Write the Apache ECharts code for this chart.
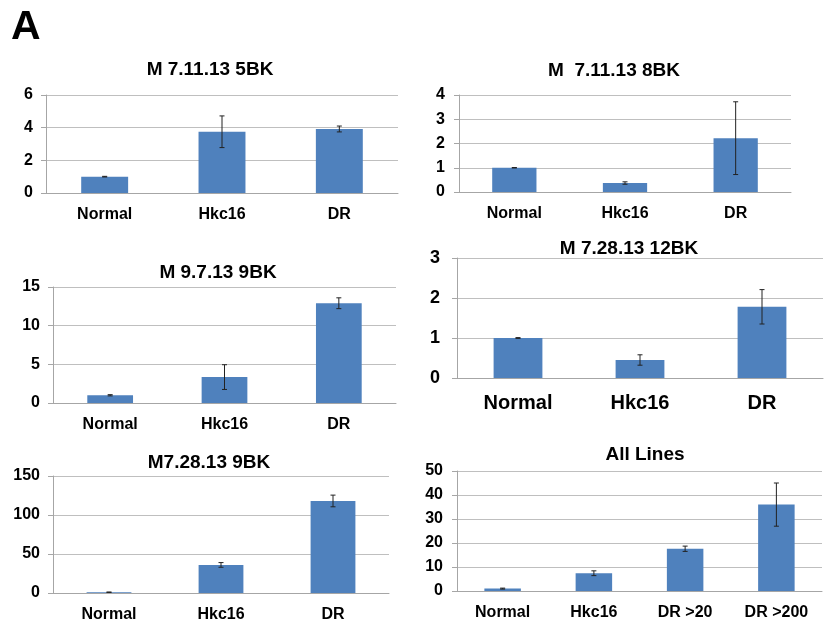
<!DOCTYPE html>
<html lang="en">
<head>
  <meta charset="UTF-8">
  <title>Panel A</title>
  <script src="https://cdnjs.cloudflare.com/ajax/libs/echarts/6.0.0/echarts.min.js"></script>
  <style>html,body{margin:0;padding:0;background:#fff;}</style>
</head>
<body>
  <div id="main" style="width: 825px;height:624px;"></div>
<script type="text/javascript">
  // categories
  var cats3 = ['Normal', 'Hkc16', 'DR'];
  var cats4 = ['Normal', 'Hkc16', 'DR >20', 'DR >200'];

  // mean values and error (+/-)
  var val5BK = [1.0, 3.75, 3.92];
  var err5BK = [0.02, 0.97, 0.18];
  var val8BK = [1.0, 0.37, 2.22];
  var err8BK = [0.01, 0.05, 1.5];
  var val9713 = [1.0, 3.35, 12.9];
  var err9713 = [0.08, 1.6, 0.7];
  var val12BK = [1.0, 0.45, 1.78];
  var err12BK = [0.01, 0.13, 0.43];
  var val72813 = [1.0, 36, 118];
  var err72813 = [0.3, 3, 7.5];
  var valAll = [1.0, 7.4, 17.6, 36];
  var errAll = [0.2, 1.0, 1.1, 9];

  var titles = ['M 7.11.13 5BK', 'M  7.11.13 8BK', 'M 9.7.13 9BK', 'M 7.28.13 12BK', 'M7.28.13 9BK', 'All Lines'];
  var yMax = [6, 4, 15, 3, 150, 50];
  var yStep = [2, 1, 5, 1, 50, 10];

  // layout per panel (grid box, title centre, font sizes)
  var panels = [
    {cats: cats3, vals: val5BK, errs: err5BK, grid: {left: 46, top: 95, width: 352, height: 98}, tx: 210, ty: 60, xfs: 16, yfs: 16, xm: 14, ym: 13},
    {cats: cats3, vals: val8BK, errs: err8BK, grid: {left: 459, top: 95, width: 332, height: 97}, tx: 614, ty: 61, xfs: 16, yfs: 16, xm: 14, ym: 14},
    {cats: cats3, vals: val9713, errs: err9713, grid: {left: 53, top: 287, width: 343, height: 116}, tx: 218, ty: 263, xfs: 16, yfs: 16, xm: 14, ym: 13},
    {cats: cats3, vals: val12BK, errs: err12BK, grid: {left: 457, top: 258, width: 366, height: 120}, tx: 629, ty: 239, xfs: 20, yfs: 18, xm: 15, ym: 17},
    {cats: cats3, vals: val72813, errs: err72813, grid: {left: 53, top: 476, width: 336, height: 117}, tx: 209, ty: 453, xfs: 16, yfs: 16, xm: 14, ym: 13},
    {cats: cats4, vals: valAll, errs: errAll, grid: {left: 457, top: 471, width: 365, height: 120}, tx: 645, ty: 445, xfs: 16, yfs: 16, xm: 14, ym: 14}
  ];

  var font = 'Liberation Sans, Arial, sans-serif';

  function renderErr(params, api) {
    var x = api.value(0);
    var lo = api.coord([x, api.value(1)]);
    var hi = api.coord([x, api.value(2)]);
    var cap = 2.5;
    var st = {stroke: '#222', lineWidth: 1};
    return {
      type: 'group',
      children: [
        {type: 'line', shape: {x1: lo[0], y1: lo[1], x2: hi[0], y2: hi[1]}, style: st},
        {type: 'line', shape: {x1: lo[0] - cap, y1: lo[1], x2: lo[0] + cap, y2: lo[1]}, style: st},
        {type: 'line', shape: {x1: hi[0] - cap, y1: hi[1], x2: hi[0] + cap, y2: hi[1]}, style: st}
      ]
    };
  }

  var option = {
    animation: false,
    backgroundColor: '#fff',
    title: [{
      text: 'A', left: 11, top: 7, padding: 0,
      textStyle: {fontSize: 41, fontWeight: 'bold', color: '#000', fontFamily: font}
    }],
    grid: [], xAxis: [], yAxis: [], series: []
  };

  panels.forEach(function (p, i) {
    option.title.push({
      text: titles[i], left: p.tx, top: p.ty, textAlign: 'center', padding: 0,
      textStyle: {fontSize: 19, fontWeight: 'bold', color: '#000', fontFamily: font}
    });
    option.grid.push(p.grid);
    option.xAxis.push({
      type: 'category', gridIndex: i, data: p.cats,
      axisLine: {lineStyle: {color: '#a6a6a6'}},
      axisTick: {length: 5, lineStyle: {color: '#a6a6a6'}},
      axisLabel: {fontSize: p.xfs, fontWeight: 'bold', color: '#000', fontFamily: font, margin: p.xm, interval: 0}
    });
    option.yAxis.push({
      type: 'value', gridIndex: i, min: 0, max: yMax[i], interval: yStep[i],
      axisLine: {show: true, lineStyle: {color: '#a6a6a6'}},
      axisTick: {show: true, length: 5, lineStyle: {color: '#a6a6a6'}},
      splitLine: {lineStyle: {color: '#bfbfbf'}},
      axisLabel: {fontSize: p.yfs, fontWeight: 'bold', color: '#000', fontFamily: font, margin: p.ym}
    });
    option.series.push({
      type: 'bar', xAxisIndex: i, yAxisIndex: i, data: p.vals, barWidth: '40%',
      itemStyle: {color: '#4f81bd'}
    });
    option.series.push({
      type: 'custom', xAxisIndex: i, yAxisIndex: i, renderItem: renderErr,
      encode: {x: 0, y: [1, 2]}, z: 5,
      data: p.vals.map(function (v, k) { return [k, v - p.errs[k], v + p.errs[k]]; })
    });
  });

  var app = echarts.init(document.getElementById('main'));
  app.setOption(option);
</script>
</body>
</html>
